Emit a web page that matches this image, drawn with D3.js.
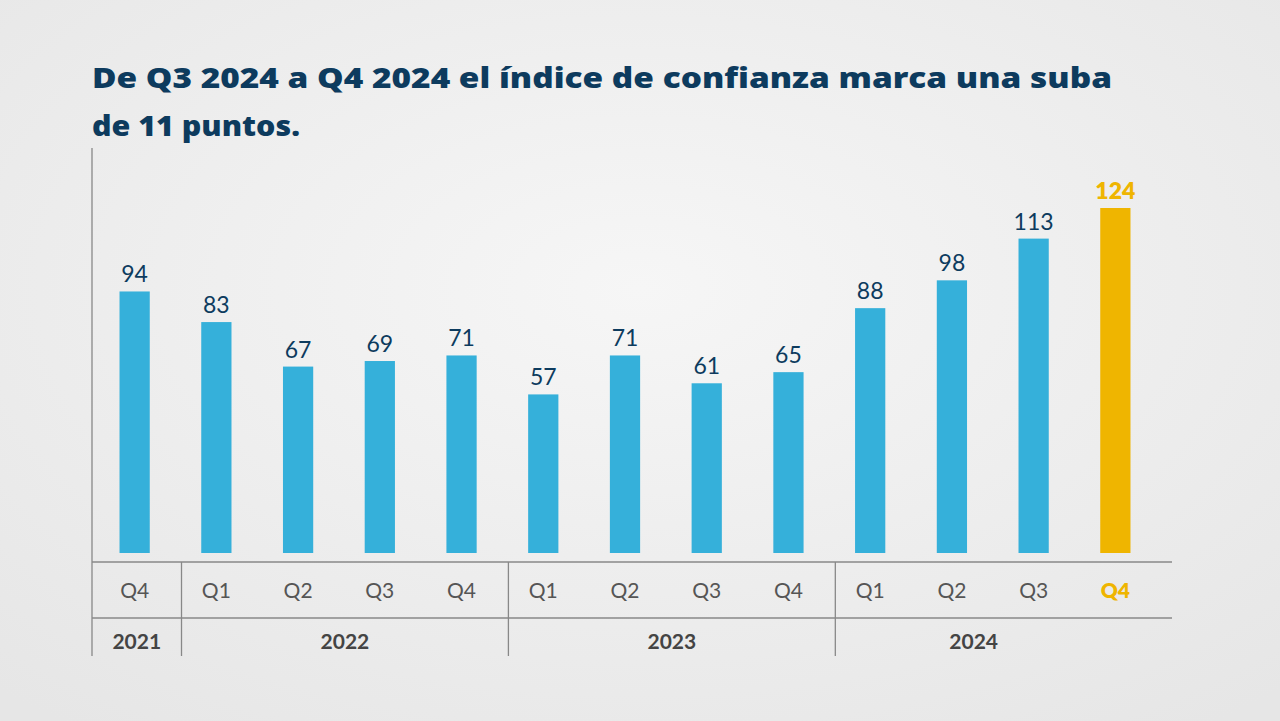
<!DOCTYPE html>
<html><head><meta charset="utf-8">
<script src="https://cdn.jsdelivr.net/npm/d3@7"></script>
<style>body{margin:0;background:#efefef;}svg{display:block;}</style>
</head><body><svg id="c" width="1280" height="721"></svg>
<script>
const quarters=["Q4","Q1","Q2","Q3","Q4","Q1","Q2","Q3","Q4","Q1","Q2","Q3","Q4"];
const values=[94,83,67,69,71,57,71,61,65,88,98,113,124];
const years=["2021","2022","2023","2024"];
const yearSpans=[[0,0],[1,4],[5,8],[9,12]];
const titleLines=["De Q3 2024 a Q4 2024 el índice de confianza marca una suba","de 11 puntos."];
const titleWidths=[1020,208];

const svg=d3.select("#c");
const navy="#0d3b5e",blue="#35b0da",gold="#efb500",gray="#888";
const defs=svg.append("defs");
const g=defs.append("radialGradient").attr("id","bg").attr("cx","50%").attr("cy","40%").attr("r","75%");
g.append("stop").attr("offset","0").attr("stop-color","#f6f6f6");
g.append("stop").attr("offset","1").attr("stop-color","#e6e6e6");
svg.append("rect").attr("width",1280).attr("height",721).attr("fill","url(#bg)");

svg.selectAll("text.t").data(titleLines).join("text").attr("class","t")
 .attr("x",92).attr("y",(d,i)=>88+i*48).attr("fill",navy)
 .attr("font-family","'Open Sans', sans-serif").attr("font-weight",800).attr("font-size",29)
 .attr("textLength",(d,i)=>titleWidths[i]).attr("lengthAdjust","spacingAndGlyphs").text(d=>d);

const x=d3.scaleBand().domain(d3.range(values.length)).range([95,1155]).paddingInner(0.63).paddingOuter(0.3);
const y=d3.scaleLinear().domain([0,124]).range([553,208]);
const idx=d3.range(values.length);
const col=i=>i===values.length-1?gold:blue;

svg.selectAll("rect.b").data(idx).join("rect").attr("class","b")
 .attr("x",i=>x(i)).attr("width",x.bandwidth()).attr("y",i=>y(values[i])).attr("height",i=>553-y(values[i])).attr("fill",col);
svg.selectAll("text.v").data(idx).join("text").attr("class","v")
 .attr("x",i=>x(i)+x.bandwidth()/2).attr("y",i=>y(values[i])-9).attr("text-anchor","middle")
 .attr("fill",i=>i===values.length-1?gold:navy).attr("font-weight",i=>i===values.length-1?800:400)
 .attr("font-family","Lato, sans-serif").attr("font-size",23).text(i=>values[i]);
svg.selectAll("text.q").data(idx).join("text").attr("class","q")
 .attr("x",i=>x(i)+x.bandwidth()/2).attr("y",598).attr("text-anchor","middle")
 .attr("fill",i=>i===values.length-1?gold:"#555").attr("font-weight",i=>i===values.length-1?800:400)
 .attr("font-family","Lato, sans-serif").attr("font-size",21).text(i=>quarters[i]);

const L=92,R=1172;
const line=(x1,y1,x2,y2)=>svg.append("line").attr("x1",x1).attr("y1",y1).attr("x2",x2).attr("y2",y2).attr("stroke",gray).attr("stroke-width",1.3);
line(L,148,L,656);line(L,562,R,562);line(L,618,R,618);
const step=x.step();
const sep=i=>x(i)-(step-x.bandwidth())/2+6;
yearSpans.forEach(([a,b],k)=>{
  const left=k===0?L:sep(a);
  const right=k===yearSpans.length-1?R-60:sep(b+1);
  if(k>0) line(left,562,left,656);
  svg.append("text").attr("x",(left+right)/2)
   .attr("y",649).attr("text-anchor","middle").attr("fill","#444").attr("font-weight",700)
   .attr("font-family","Lato, sans-serif").attr("font-size",21).text(years[k]);
});
</script></body></html>
